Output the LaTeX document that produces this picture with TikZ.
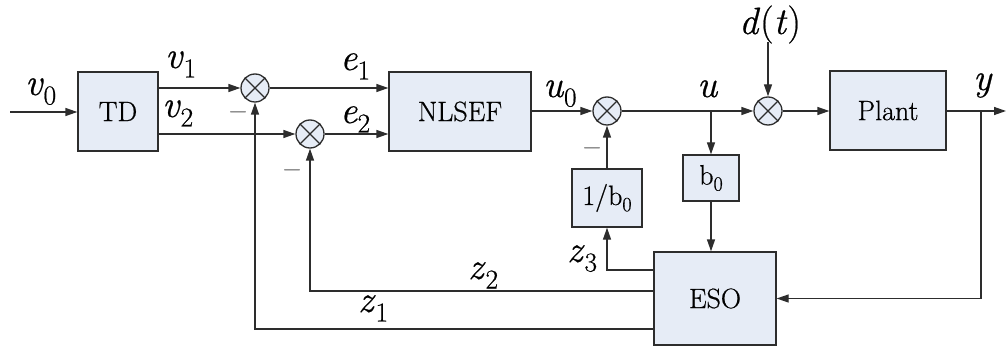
\documentclass[tikz,border=0pt]{standalone}
\usepackage{fontspec}
\usepackage{graphicx}
\setmainfont{Latin Modern Roman}[FakeBold=0.6]
\usetikzlibrary{arrows.meta}
\definecolor{boxfill}{RGB}{230,236,246}
\definecolor{linec}{RGB}{45,45,45}
\newcommand{\lbl}[2]{\textit{#1}\raisebox{-0.25em}{\scalebox{0.72}{#2}}}
\newcommand{\bsub}[1]{\raisebox{-0.22em}{\scalebox{0.72}{#1}}}
\begin{document}
\begin{tikzpicture}[x=1pt,y=-1pt,
  blk/.style={draw=linec, fill=boxfill, line width=1.3pt, inner sep=0pt, font=\fontsize{28}{28}\selectfont},
  sumj/.style={circle, draw=linec, fill=boxfill, line width=1.3pt, minimum size=28pt, inner sep=0pt},
  wire/.style={line width=1.3pt, draw=linec},
  arr/.style={wire, -{Triangle[length=12pt,width=8pt]}},
  lab/.style={anchor=base west, inner sep=0pt, font=\fontsize{38}{38}\selectfont},
  minus/.style={inner sep=0pt, font=\fontsize{32}{32}\selectfont}]
\useasboundingbox (0,0) rectangle (1008,347);
% blocks
\node[blk, minimum width=80pt, minimum height=79pt] (TD) at (118,111.5) {TD};
\node[blk, minimum width=142pt, minimum height=79pt] (NL) at (460,111.5) {NLSEF};
\node[blk, minimum width=116pt, minimum height=79pt] (PL) at (888,110.5) {Plant};
\node[blk, minimum width=56pt, minimum height=46pt] (B0) at (711,178) {b\bsub{0}};
\node[blk, minimum width=70pt, minimum height=58pt] (IB) at (607,198) {1/b\bsub{0}};
\node[blk, minimum width=122pt, minimum height=93pt] (ESO) at (715,298.5) {ESO};
% sum junctions
\node[sumj] (s1) at (255,88) {};
\node[sumj] (s2) at (310,134) {};
\node[sumj] (s3) at (607,111) {};
\node[sumj] (s4) at (768,111) {};
\foreach \s in {s1,s2,s3,s4}
  \draw[wire] (\s.north west) -- (\s.south east) (\s.north east) -- (\s.south west);
% free ends
\coordinate (in) at (10,112);
\coordinate (dt) at (768,42);
\coordinate (out) at (1006,111);
\coordinate (ub) at (711,111);
\coordinate (yb) at (981,111);
% forward path
\draw[arr] (in) -- (TD.west|-in);
\draw[arr] (TD.east|-s1) -- (s1);
\draw[arr] (TD.east|-s2) -- (s2);
\draw[arr] (s1) -- (NL.west|-s1);
\draw[arr] (s2) -- (NL.west|-s2);
\draw[arr] (NL.east|-s3) -- (s3);
\draw[wire] (s3) -- (ub);
\draw[arr] (ub) -- (s4);
\draw[arr] (dt) -- (s4);
\draw[arr] (s4) -- (PL.west|-s4);
\draw[arr] (PL.east|-out) -- (out);
\draw[arr] (ub) -- (B0.north);
\draw[arr] (B0.south) -- (B0.south|-ESO.north);
\draw[arr] (yb) -- (yb|-ESO.east) -- (ESO.east);
% feedback
\draw[arr] (ESO.west|-0,270) -- (IB.south|-0,270) -- (IB.south);
\draw[arr] (IB.north) -- (s3);
\draw[arr] (ESO.west|-0,291) -- (s2.south|-0,291) -- (s2);
\draw[arr] (ESO.west|-0,329) -- (s1.south|-0,329) -- (s1);
% labels
\node[lab] (lv0) at (25,95) {\lbl{v}{0}};
\node[lab] (lv1) at (165,68) {\lbl{v}{1}};
\node[lab] (lv2) at (162,117) {\lbl{v}{2}};
\node[lab] (le1) at (340,70) {\lbl{e}{1}};
\node[lab] (le2) at (340,123) {\lbl{e}{2}};
\node[lab] (lu0) at (543,97) {\lbl{u}{0}};
\node[lab] (lu) at (697,97) {\textit{u}};
\node[lab] (ld) at (739,34) {\textit{d}(\textit{t})};
\node[lab] (ly) at (973,90) {\textit{y}};
\node[lab] (lz3) at (567,262) {\lbl{z}{3}};
\node[lab] (lz2) at (468,279) {\lbl{z}{2}};
\node[lab] (lz1) at (358,312) {\lbl{z}{1}};
\node[minus] (m1) at (238,116) {–};
\node[minus] (m2) at (292,174) {–};
\node[minus] (m3) at (592,152) {–};
\end{tikzpicture}
\end{document}
